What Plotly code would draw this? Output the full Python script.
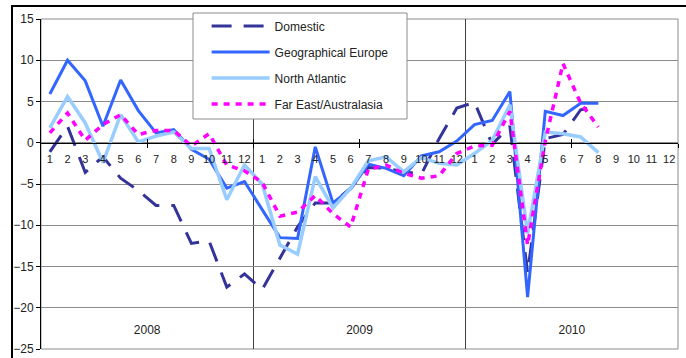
import plotly.graph_objects as go

years = ["2008", "2009", "2010"]
months = [str(m) for m in range(1, 13)]

domestic = [
    -1.1, 2.0, -3.6, -1.7, -4.3, -5.8, -7.6, -7.6, -12.2, -11.9, -17.5, -15.9,
    -17.8, -14.0, -10.2, -7.3, -7.3, -5.5, -3.0, -3.1, -3.5, -3.8, 0.5, 4.2,
    4.9, -0.2, 2.0, -15.8, 0.5, 1.0, 4.0, 4.4, None, None, None, None,
]
geo_europe = [
    5.9, 10.0, 7.5, 2.0, 7.6, 3.9, 1.2, 1.6, -0.8, -2.0, -5.5, -4.7,
    -8.1, -11.5, -11.6, -0.5, -7.3, -5.6, -2.6, -3.1, -4.0, -1.6, -1.1, 0.2,
    2.2, 2.7, 6.2, -18.7, 3.8, 3.3, 4.8, 4.8, None, None, None, None,
]
north_atlantic = [
    1.8, 5.6, 2.4, -2.4, 3.4, 0.1, 0.8, 1.3, -0.7, -0.7, -6.9, -2.7,
    -5.0, -12.4, -13.5, -4.1, -7.9, -5.5, -2.2, -1.7, -3.5, -1.8, -2.5, -2.7,
    -1.3, 0.3, 4.6, -11.0, 1.3, 1.1, 0.7, -1.2, None, None, None, None,
]
far_east = [
    1.2, 3.6, 0.3, 2.2, 3.4, 1.0, 1.5, 1.5, -0.4, 1.1, -2.7, -3.4,
    -4.8, -8.9, -8.4, -6.4, -8.6, -10.2, -3.2, -2.7, -3.7, -4.3, -4.0, -1.3,
    -0.4, -0.3, 3.8, -12.4, 0.2, 9.6, 4.8, 1.9, None, None, None, None,
]

n = len(months)
x = list(range(n * len(years)))
month_labels = months * len(years)
year_mid = [n * k + (n - 1) / 2 for k in range(len(years))]
year_bounds = [n * k - 0.5 for k in range(1, len(years))]
half_ticks = [n * k / 2 - 0.5 for k in range(1, 2 * len(years) + 1)]

FONT = "Liberation Sans, Arial, sans-serif"
TXT = "#222222"
GRID = "#8c8c8c"

fig = go.Figure()

series = [
    ("Domestic", domestic, "#333399", 3, "20px,12px"),
    ("Geographical Europe", geo_europe, "#3366ff", 3, "solid"),
    ("North Atlantic", north_atlantic, "#99ccff", 3.5, "solid"),
    ("Far East/Australasia", far_east, "#ff00ff", 3.5, "6px,6px"),
]
for name, vals, color, w, dash in series:
    fig.add_trace(go.Scatter(
        x=x, y=vals, name=name, mode="lines", legendgroup=name,
        line=dict(color=color, width=w, dash=dash),
    ))

# dummy traces so the helper axes get drawn
fig.add_trace(go.Scatter(x=year_mid, y=[None] * len(years), xaxis="x2",
                         showlegend=False, hoverinfo="skip"))
fig.add_trace(go.Scatter(x=year_mid, y=[None] * len(years), xaxis="x3",
                         showlegend=False, hoverinfo="skip"))

xrange = [-0.5, len(x) - 0.5]
zero_pos = 25 / 40

fig.update_layout(
    width=686, height=358,
    margin=dict(l=41, r=8, t=19, b=9),
    paper_bgcolor="white", plot_bgcolor="white",
    font=dict(family=FONT, size=11, color=TXT),
    showlegend=True,
    legend=dict(
        x=0.26, y=1.023, xanchor="left", yanchor="top",
        bgcolor="rgba(0,0,0,0)", borderwidth=0,
        font=dict(size=12, color=TXT), tracegroupgap=7,
        itemwidth=58,
    ),
    xaxis=dict(
        range=xrange, tickmode="array", tickvals=x, ticktext=month_labels,
        anchor="free", position=zero_pos, showline=True, linecolor="black",
        linewidth=1, ticks="", showgrid=False, zeroline=False,
        tickfont=dict(size=11), ticklabelstandoff=6, automargin=False,
        minor=dict(tickmode="array", tickvals=half_ticks, ticks="outside",
                   ticklen=4, tickcolor="black"),
    ),
    xaxis2=dict(
        range=xrange, overlaying="x", anchor="free", position=zero_pos,
        tickmode="array", tickvals=half_ticks, ticks="inside", ticklen=4,
        tickcolor="black", showticklabels=False, showgrid=False,
        showline=False, zeroline=False, automargin=False,
        minor=dict(tickmode="array", tickvals=year_bounds, showgrid=True,
                   gridcolor="#404040", gridwidth=1, ticks=""),
    ),
    xaxis3=dict(
        range=xrange, overlaying="x", anchor="free", position=28 / 330,
        side="bottom", tickmode="array", tickvals=year_mid, ticktext=years,
        ticks="", ticklabelstandoff=0, automargin=False,
        tickfont=dict(size=12), showgrid=False, showline=False, zeroline=False,
    ),
    yaxis=dict(
        range=[-25, 15], dtick=5, showgrid=True, gridcolor=GRID, gridwidth=1,
        zeroline=False, showline=True, linecolor="black", linewidth=1,
        ticks="outside", ticklen=4, tickcolor="black", automargin=False,
        tickfont=dict(size=12),
    ),
    shapes=[
        # plot area border
        dict(type="rect", xref="paper", yref="paper", x0=0, x1=1, y0=0, y1=1,
             line=dict(color=GRID, width=1), layer="below"),
        # outer chart frame
        dict(type="rect", xref="paper", yref="paper",
             x0=-29 / 637, x1=1.05, y0=-0.1, y1=1 + 13 / 330,
             line=dict(color="black", width=2), layer="below"),
        # legend box
        dict(type="rect", xref="paper", yref="paper",
             x0=152 / 637, x1=366 / 637, y0=230 / 330, y1=336 / 330,
             line=dict(color=GRID, width=1), fillcolor="white", layer="above"),
    ],
)

fig.write_html("out.html", config={"displayModeBar": False},
               post_script="document.body.style.margin='0';")
